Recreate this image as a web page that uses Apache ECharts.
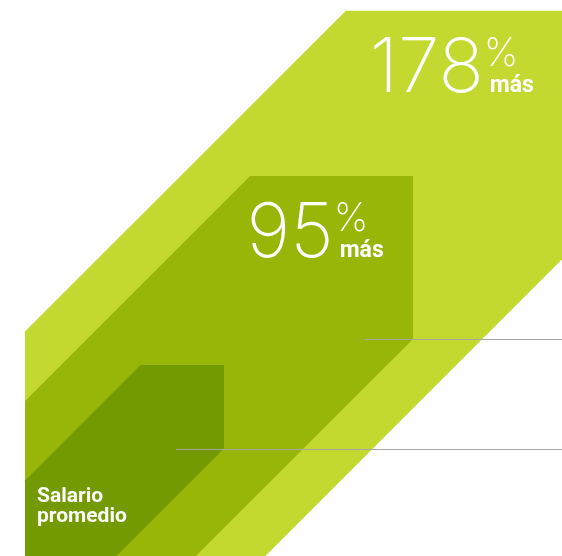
<!DOCTYPE html>
<html>
<head>
<meta charset="utf-8">
<style>
  html, body { margin: 0; padding: 0; background: #fff; }
  #chart { width: 562px; height: 556px; }
</style>
<script src="https://cdn.jsdelivr.net/npm/echarts@6/dist/echarts.min.js"></script>
</head>
<body>
<div id="chart"></div>
<script>
// salario relativo (promedio = 100)
const categories = ["Salario\npromedio", "95% más", "178% más"];
const salaryIndex = [100, 195, 278];
const increasePct = [0, 95, 178];

const colors = ["#739a00", "#97b607", "#c4d92f"];
const sideRatio = 0.42; // lado del cuadrado frente a la altura
// la base (0) queda un poco por debajo del borde inferior
const yMin = 4, yMax = 283.4;
const xMax = (537 * (yMax - yMin)) / 556; // misma escala en x e y

const chart = echarts.init(document.getElementById("chart"));

function renderItem(params, api) {
  const i = params.dataIndex;
  const n = salaryIndex.length;
  const v = api.value(1);
  const s = v * sideRatio;
  const d = v - s;
  const c = (x, y) => api.coord([x, y]);
  const pts = [c(0, 0), c(0, s), c(d, v), c(d + s, v), c(d + s, d), c(s, 0)];
  const sPx = pts[0][1] - pts[1][1];
  // el mas pequeño va delante
  const children = [
    { type: "polygon", z2: n - i, shape: { points: pts }, style: { fill: colors[i] } },
  ];
  const top = pts[2][1];
  const right = pts[3][0];

  if (i < n - 1) {
    const ly = Math.round(pts[4][1]) + 0.5;
    children.push({
      type: "line",
      z2: 50,
      shape: { x1: pts[4][0] - 48, y1: ly, x2: params.coordSys.x + params.coordSys.width, y2: ly },
      style: { stroke: "#a6a6a6", lineWidth: 1 },
    });
  }

  if (i === 0) {
    children.push({
      type: "text",
      z2: 60,
      style: {
        text: categories[0],
        x: pts[1][0] + 12,
        y: pts[1][1] + 6,
        fill: "#fff",
        fontFamily: "Roboto",
        fontWeight: "bold",
        fontSize: 21,
        lineHeight: 20,
        align: "left",
        verticalAlign: "top",
      },
    });
  } else {
    const ax = right - 44 - 0.217 * sPx;
    const ty = top + 21;
    children.push(
      {
        type: "text",
        z2: 60,
        style: {
          text: String(increasePct[i]),
          x: ax, y: ty,
          fill: "#fff",
          fontFamily: "Inter",
          fontWeight: 200,
          fontSize: 75,
          align: "right",
          verticalAlign: "top",
        },
      },
      {
        type: "text",
        z2: 60,
        style: {
          text: "%",
          x: ax, y: ty + 3,
          fill: "#fff",
          fontFamily: "Inter",
          fontWeight: 200,
          fontSize: 39,
          align: "left",
          verticalAlign: "top",
        },
      },
      {
        type: "text",
        z2: 60,
        style: {
          text: "más",
          x: ax + 6, y: ty + 43,
          fill: "#fff",
          fontFamily: "Roboto",
          fontWeight: "bold",
          fontSize: 23,
          align: "left",
          verticalAlign: "top",
        },
      }
    );
  }
  return { type: "group", children };
}

chart.setOption({
  animation: false,
  grid: { left: 25, right: 0, top: 0, bottom: 0 },
  xAxis: { type: "value", min: 0, max: xMax, show: false },
  yAxis: { type: "value", min: yMin, max: yMax, show: false },
  series: [
    {
      type: "custom",
      renderItem,
      clip: false,
      encode: { x: 0, y: 1 },
      data: salaryIndex.map((v) => [0, v]),
    },
  ],
});
</script>
</body>
</html>
